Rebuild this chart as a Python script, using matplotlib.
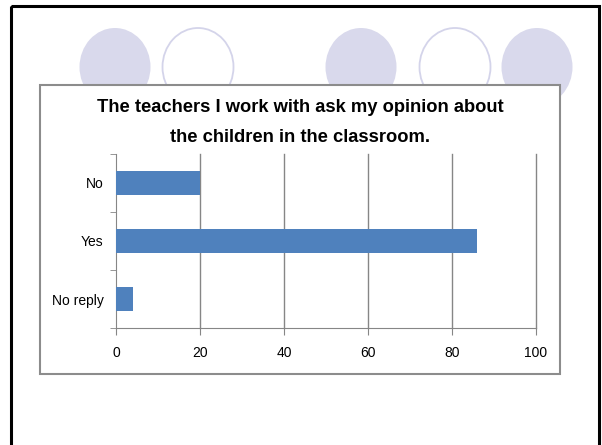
import matplotlib
matplotlib.use("Agg")
import matplotlib.pyplot as plt
from matplotlib.patches import Ellipse, Rectangle

plt.rcParams['font.family'] = ['Liberation Sans', 'DejaVu Sans']

# data
categories = ['No reply', 'Yes', 'No']
values = [4, 86, 20]
x_ticks = [0, 20, 40, 60, 80, 100]
title_lines = ['The teachers I work with ask my opinion about',
               'the children in the classroom.']

W, H = 602, 445
fig = plt.figure(figsize=(W / 100, H / 100), dpi=100)

# background layer in pixel coordinates (y down)
bg = fig.add_axes([0, 0, 1, 1])
bg.set_xlim(0, W)
bg.set_ylim(H, 0)
bg.axis('off')

# slide border
bg.add_patch(Rectangle((11, 6), 588, 460, fill=False, edgecolor='black', lw=2.2))

# decorative circles
for cx, filled in [(115, True), (198, False), (361, True), (455, False), (537, True)]:
    if filled:
        bg.add_patch(Ellipse((cx, 67), 71, 78, facecolor='#D9D9EC', edgecolor='none'))
    else:
        bg.add_patch(Ellipse((cx, 67), 71, 78, facecolor='white', edgecolor='#D4D4EA', lw=1.3))

# chart box
bg.add_patch(Rectangle((40, 85), 520, 289, facecolor='white', edgecolor='#8C8C8C', lw=1.5))

# title
bg.text(300, 107, title_lines[0], ha='center', va='center', fontsize=13.2,
        fontweight='bold')
bg.text(300, 137, title_lines[1], ha='center', va='center', fontsize=13.2,
        fontweight='bold')

# plot area
left, right, top, bottom = 116, 536, 154, 328
ax = fig.add_axes([left / W, 1 - bottom / H, (right - left) / W, (bottom - top) / H])
ax.set_facecolor('none')
ypos = list(range(len(categories)))
ax.barh(ypos, values, height=0.4, color='#4F81BD', zorder=3)
ax.set_xlim(0, 100)
ax.set_ylim(-0.5, len(categories) - 0.5)
ax.set_xticks(x_ticks)
ax.set_xticklabels([str(t) for t in x_ticks], fontsize=10)
ax.set_yticks(ypos)
ax.set_yticklabels(categories, fontsize=10)
ax.set_yticks([y - 0.5 for y in range(len(categories) + 1)], minor=True)
ax.tick_params(axis='y', which='major', length=0, pad=9)
ax.tick_params(axis='y', which='minor', length=4, color='#868686')
ax.tick_params(axis='x', length=5, color='#868686', pad=8)
for t in x_ticks[1:]:
    ax.axvline(t, color='#868686', lw=1, zorder=0, clip_on=False)
for s in ['top', 'right']:
    ax.spines[s].set_visible(False)
for s in ['left', 'bottom']:
    ax.spines[s].set_color('#868686')

fig.savefig('out.png', dpi=100)
